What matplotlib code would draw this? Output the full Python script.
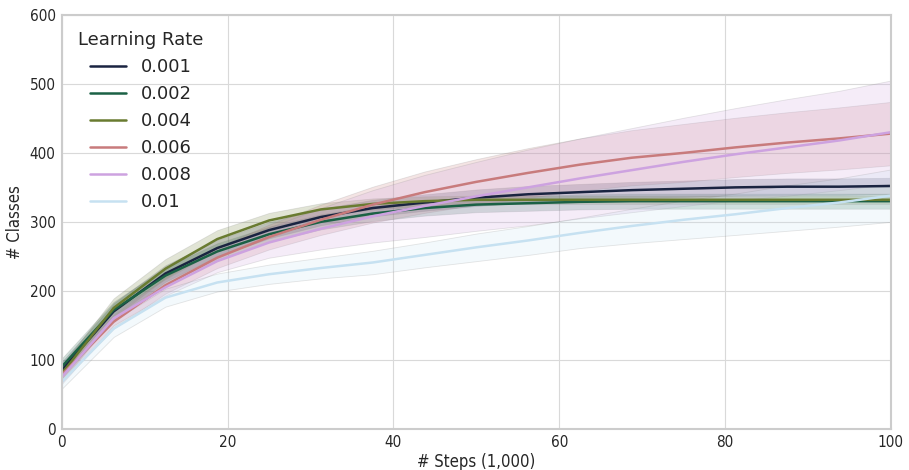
import numpy as np
import seaborn as sns
import matplotlib
matplotlib.use("Agg")
import matplotlib.pyplot as plt

# steps (1,000)
steps = np.linspace(0, 100, 17)

labels = ["0.001", "0.002", "0.004", "0.006", "0.008", "0.01"]

# mean number of classes per learning rate
mean_001 = [85, 170, 225, 262, 288, 307, 320, 328, 335, 340, 343, 346, 348, 350, 351, 351, 352]
mean_002 = [90, 172, 222, 257, 282, 300, 312, 320, 325, 327, 329, 330, 330, 330, 330, 330, 330]
mean_004 = [80, 175, 232, 275, 302, 318, 326, 330, 332, 332, 332, 332, 332, 332, 332, 332, 332]
mean_006 = [78, 155, 208, 248, 278, 303, 325, 343, 358, 371, 383, 393, 400, 408, 415, 421, 428]
mean_008 = [75, 160, 205, 243, 270, 290, 308, 323, 337, 350, 363, 375, 387, 398, 408, 418, 430]
mean_01 = [68, 145, 190, 212, 224, 233, 241, 252, 263, 273, 284, 294, 303, 311, 320, 328, 338]

# spread (std) per learning rate
std_001 = [12, 12, 12, 12, 12, 12, 12, 12, 12, 12, 12, 12, 12, 12, 12, 12, 12]
std_002 = [12, 12, 12, 12, 11, 11, 11, 11, 11, 11, 11, 11, 11, 11, 11, 11, 11]
std_004 = [12, 14, 14, 13, 11, 9, 8, 7, 6, 6, 6, 6, 6, 6, 6, 6, 6]
std_006 = [10, 10, 12, 15, 18, 22, 26, 30, 33, 36, 38, 40, 42, 43, 44, 45, 46]
std_008 = [10, 10, 12, 16, 22, 30, 38, 45, 50, 55, 58, 61, 64, 67, 70, 72, 75]
std_01 = [10, 12, 13, 13, 14, 15, 17, 18, 20, 21, 22, 25, 28, 30, 33, 35, 38]

means = [mean_001, mean_002, mean_004, mean_006, mean_008, mean_01]
stds = [std_001, std_002, std_004, std_006, std_008, std_01]

sns.set_style("whitegrid", {"axes.edgecolor": "#cccccc", "grid.color": "#d9d9d9"})
colors = sns.color_palette("cubehelix", 6)

fig, ax = plt.subplots(figsize=(9.09, 4.70), dpi=100)
for m, s, c, lab in zip(means, stds, colors, labels):
    m = np.array(m)
    s = np.array(s)
    ax.fill_between(steps, m - s, m + s, color=c, alpha=0.2,
                    edgecolor="gray", linewidth=0.6)
    ax.plot(steps, m, color=c, linewidth=1.8, label=lab)

ax.set_xlim(0, 100)
ax.set_ylim(0, 600)
cond = dict(family="DejaVu Sans", stretch="condensed")
ax.set_xlabel("# Steps (1,000)", fontsize=12, labelpad=2, **cond)
ax.set_ylabel("# Classes", fontsize=12, labelpad=4, **cond)
for sp in ax.spines.values():
    sp.set_linewidth(1.5)
    sp.set_visible(True)
ax.tick_params(labelsize=11, pad=1)
for t in ax.get_xticklabels() + ax.get_yticklabels():
    t.set_fontstretch("condensed")
leg = ax.legend(title="Learning Rate", loc="upper left", frameon=False,
                fontsize=13, title_fontsize=13)

fig.subplots_adjust(left=0.068, right=0.98, top=0.968, bottom=0.088)
fig.savefig("out.png")
